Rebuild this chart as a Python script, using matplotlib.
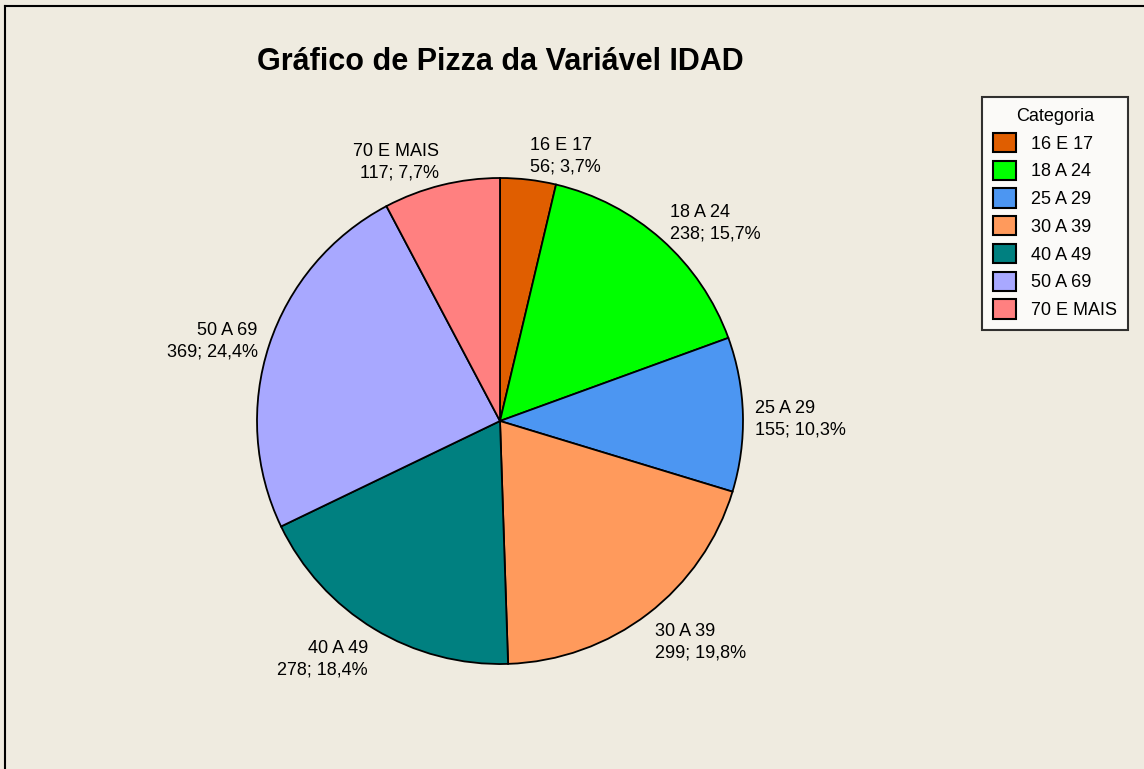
import matplotlib
matplotlib.use("Agg")
from matplotlib import pyplot as plt
from matplotlib.lines import Line2D
from matplotlib.patches import Patch
import numpy as np

plt.rcParams['font.family'] = ['Liberation Sans', 'DejaVu Sans']

categorias = ['16 E 17', '18 A 24', '25 A 29', '30 A 39', '40 A 49', '50 A 69', '70 E MAIS']
contagens = [56, 238, 155, 299, 278, 369, 117]
percentuais = ['3,7%', '15,7%', '10,3%', '19,8%', '18,4%', '24,4%', '7,7%']
cores = ['#E05E00', '#00FF00', '#4C96F2', '#FF9A5C', '#008080', '#A8A8FF', '#FF8080']
titulo = 'Gráfico de Pizza da Variável IDAD'

W, H = 1144, 769
bg = '#EFEBE0'
fig = plt.figure(figsize=(W / 100, H / 100), dpi=100, facecolor=bg)

# pie centre and radius in pixels
cx, cy, r = 500, 421, 243
ax = fig.add_axes([(cx - r) / W, (H - cy - r) / H, 2 * r / W, 2 * r / H])
ax.set_facecolor(bg)
ax.axis('off')

wedges, _ = ax.pie(contagens, colors=cores, startangle=90, counterclock=False,
                   radius=1, wedgeprops=dict(edgecolor='black', linewidth=1.3))
ax.set_xlim(-1, 1)
ax.set_ylim(-1, 1)

# labels outside the slices
for w, cat, n, p in zip(wedges, categorias, contagens, percentuais):
    ang = np.deg2rad((w.theta1 + w.theta2) / 2)
    x, y = np.cos(ang), np.sin(ang)
    ha = 'left' if x > 0 else 'right'
    ax.annotate(f'{cat}\n{n}; {p}', (1.05 * x, 1.12 * y), xytext=(0, -4),
                textcoords='offset points', ha=ha, va='center',
                fontsize=13, linespacing=1.35, annotation_clip=False)

fig.text(500 / W, 1 - 62 / H, titulo, ha='center', va='center',
         fontsize=22, fontweight='bold')

handles = [Patch(facecolor=c, edgecolor='black', linewidth=1.5) for c in cores]
leg = fig.legend(handles, categorias, title='Categoria', loc='upper right',
                 bbox_to_anchor=(1128 / W, 1 - 97 / H), bbox_transform=fig.transFigure,
                 fontsize=13, title_fontsize=13, frameon=True, fancybox=False,
                 borderaxespad=0, handlelength=1.25, handleheight=1.25,
                 labelspacing=0.45, handletextpad=0.85, borderpad=0.6)
leg.get_frame().set_edgecolor('black')
leg.get_frame().set_linewidth(1.5)
leg.get_frame().set_facecolor('white')

# frame (top and left edges only)
fig.add_artist(Line2D([4.5 / W, 1], [1 - 6 / H, 1 - 6 / H], color='black', lw=1.5))
fig.add_artist(Line2D([4.5 / W, 4.5 / W], [0, 1 - 6 / H], color='black', lw=1.5))

fig.savefig('out.png', dpi=100, facecolor=bg)
